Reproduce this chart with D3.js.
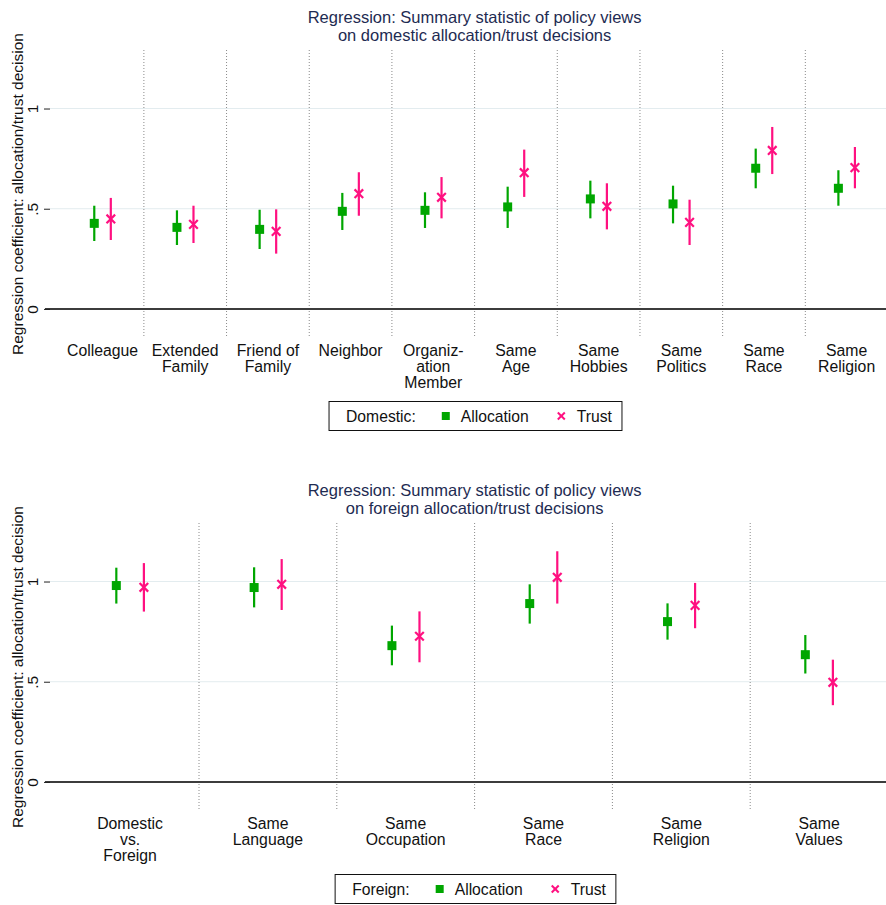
<!DOCTYPE html>
<html lang="en">
	<head>
		<meta charset="utf-8">
		<title>Regression coefficients: domestic and foreign</title>
		<script type="text/javascript" src="https://cdn.jsdelivr.net/npm/d3@7"></script>
		<style>
			body { margin: 0; background: #fff; }
			text { font-family: "Liberation Sans", Arial, sans-serif; }
		</style>
	</head>
	<body>
		<script type="text/javascript">

			// --- data ---
			var domCategories = ["Colleague", "Extended\nFamily", "Friend of\nFamily", "Neighbor", "Organiz-\nation\nMember",
			                     "Same\nAge", "Same\nHobbies", "Same\nPolitics", "Same\nRace", "Same\nReligion"];
			var domAllocEst = [0.427, 0.407, 0.397, 0.487, 0.492, 0.509, 0.549, 0.524, 0.702, 0.602];
			var domAllocLo  = [0.339, 0.319, 0.299, 0.394, 0.404, 0.404, 0.452, 0.427, 0.602, 0.515];
			var domAllocHi  = [0.515, 0.492, 0.495, 0.579, 0.582, 0.610, 0.640, 0.615, 0.800, 0.692];
			var domTrustEst = [0.449, 0.422, 0.387, 0.575, 0.557, 0.680, 0.512, 0.432, 0.791, 0.705];
			var domTrustLo  = [0.344, 0.329, 0.276, 0.465, 0.452, 0.559, 0.397, 0.319, 0.673, 0.602];
			var domTrustHi  = [0.554, 0.515, 0.497, 0.682, 0.658, 0.795, 0.627, 0.545, 0.908, 0.808];

			var forCategories = ["Domestic\nvs.\nForeign", "Same\nLanguage", "Same\nOccupation", "Same\nRace", "Same\nReligion", "Same\nValues"];
			var forAllocEst = [0.980, 0.970, 0.680, 0.890, 0.800, 0.635];
			var forAllocLo  = [0.890, 0.871, 0.582, 0.790, 0.710, 0.541];
			var forAllocHi  = [1.069, 1.071, 0.780, 0.986, 0.891, 0.733];
			var forTrustEst = [0.971, 0.986, 0.727, 1.021, 0.881, 0.497];
			var forTrustLo  = [0.850, 0.858, 0.597, 0.890, 0.767, 0.383];
			var forTrustHi  = [1.092, 1.112, 0.851, 1.151, 0.993, 0.610];

			var yTicks = [0, 0.5, 1];
			var yTickLabels = ["0", ".5", "1"];
			var yTitle = "Regression coefficient: allocation/trust decision";

			var domTitle = ["Regression: Summary statistic of policy views", "on domestic allocation/trust decisions"];
			var forTitle = ["Regression: Summary statistic of policy views", "on foreign allocation/trust decisions"];
			var seriesNames = ["Allocation", "Trust"];

			// --- layout ---
			var w = 886;
			var h = 905;
			var panelShift = 473;
			var plotLeft = 50, plotRight = 886;
			var bandLeft = 61.2, bandRight = 888;
			var plotTop = 50, plotBottom = 338;

			var green = "#00a600";
			var pink = "#ff1080";
			var titleColor = "#1e2b52";

			var svg = d3.select("body")
						.append("svg")
						.attr("width", w)
						.attr("height", h);

			var yScale = d3.scaleLinear()
						   .domain([-0.145, 1.292])
						   .range([plotBottom, plotTop]);

			function rows(cats, est, lo, hi) {
				return cats.map(function(c, i) {
					return { cat: c, est: est[i], lo: lo[i], hi: hi[i] };
				});
			}

			function drawX(sel, size) {
				sel.append("line").attr("x1", -size).attr("y1", -size).attr("x2", size).attr("y2", size);
				sel.append("line").attr("x1", -size).attr("y1", size).attr("x2", size).attr("y2", -size);
			}

			function drawPanel(g, cats, alloc, trust, title, legendLabel) {

				var xScale = d3.scaleBand()
							   .domain(cats)
							   .range([bandLeft, bandRight]);
				var bw = xScale.bandwidth();
				var off = bw * 0.1;

				// grid lines
				g.selectAll(".grid")
				 .data(yTicks.filter(function(d) { return d !== 0; }))
				 .enter()
				 .append("line")
				 .attr("x1", plotLeft).attr("x2", plotRight)
				 .attr("y1", function(d) { return yScale(d); })
				 .attr("y2", function(d) { return yScale(d); })
				 .attr("stroke", "#e3ecef")
				 .attr("stroke-width", 1);

				// category dividers
				g.selectAll(".divider")
				 .data(cats.slice(1))
				 .enter()
				 .append("line")
				 .attr("x1", function(d) { return xScale(d); })
				 .attr("x2", function(d) { return xScale(d); })
				 .attr("y1", plotTop).attr("y2", plotBottom)
				 .attr("stroke", "#8a8a8a")
				 .attr("stroke-width", 1)
				 .attr("stroke-dasharray", "1,2");

				// zero line
				g.append("line")
				 .attr("x1", 45).attr("x2", plotRight)
				 .attr("y1", yScale(0)).attr("y2", yScale(0))
				 .attr("stroke", "#3c3c3c")
				 .attr("stroke-width", 2);

				// y axis
				var yAxis = d3.axisLeft(yScale)
							  .tickValues(yTicks)
							  .tickFormat(function(d, i) { return yTickLabels[i]; })
							  .tickSize(6);
				var ax = g.append("g")
						  .attr("transform", "translate(" + plotLeft + ",0)")
						  .call(yAxis);
				ax.select(".domain").remove();
				ax.selectAll("line").attr("stroke", "#222");
				ax.selectAll("text")
				  .attr("transform", "rotate(-90)")
				  .attr("x", 0)
				  .attr("y", -12)
				  .attr("dy", 0)
				  .attr("text-anchor", "middle")
				  .attr("font-size", "15.5px")
				  .attr("font-family", "Liberation Sans, Arial, sans-serif")
				  .attr("fill", "#111");

				g.append("text")
				 .attr("transform", "translate(23," + ((plotTop + plotBottom) / 2) + ") rotate(-90)")
				 .attr("text-anchor", "middle")
				 .attr("font-size", "15.5px")
				 .attr("fill", "#111")
				 .text(yTitle);

				// title, one text block with two lines
				var tx = (bandLeft + bandRight) / 2;
				g.append("text")
				 .attr("text-anchor", "middle")
				 .attr("font-size", "16.5px")
				 .attr("fill", titleColor)
				 .selectAll("tspan")
				 .data(title)
				 .enter()
				 .append("tspan")
				 .attr("x", tx)
				 .attr("y", function(d, i) { return 22.5 + i * 18.5; })
				 .text(function(d) { return d; });

				// category labels
				var lab = g.selectAll(".catlab")
						   .data(cats)
						   .enter()
						   .append("text")
						   .attr("text-anchor", "middle")
						   .attr("font-size", "15.8px")
						   .attr("fill", "#111");
				lab.selectAll("tspan")
				   .data(function(d) { return d.split("\n").map(function(s) { return { s: s, c: d }; }); })
				   .enter()
				   .append("tspan")
				   .attr("x", function(d) { return xScale(d.c) + bw / 2; })
				   .attr("y", function(d, i) { return 355.5 + i * 16; })
				   .text(function(d) { return d.s; });

				// allocation: error bars + squares
				var ga = g.append("g");
				ga.selectAll("line")
				  .data(alloc)
				  .enter()
				  .append("line")
				  .attr("x1", function(d) { return xScale(d.cat) + bw / 2 - off; })
				  .attr("x2", function(d) { return xScale(d.cat) + bw / 2 - off; })
				  .attr("y1", function(d) { return yScale(d.lo); })
				  .attr("y2", function(d) { return yScale(d.hi); })
				  .attr("stroke", green)
				  .attr("stroke-width", 2.2);
				ga.selectAll("rect")
				  .data(alloc)
				  .enter()
				  .append("rect")
				  .attr("x", function(d) { return xScale(d.cat) + bw / 2 - off - 4.5; })
				  .attr("y", function(d) { return yScale(d.est) - 4.5; })
				  .attr("width", 9)
				  .attr("height", 9)
				  .attr("fill", green);

				// trust: error bars + crosses
				var gt = g.append("g");
				gt.selectAll("line")
				  .data(trust)
				  .enter()
				  .append("line")
				  .attr("x1", function(d) { return xScale(d.cat) + bw / 2 + off; })
				  .attr("x2", function(d) { return xScale(d.cat) + bw / 2 + off; })
				  .attr("y1", function(d) { return yScale(d.lo); })
				  .attr("y2", function(d) { return yScale(d.hi); })
				  .attr("stroke", pink)
				  .attr("stroke-width", 2.2);
				gt.selectAll("g")
				  .data(trust)
				  .enter()
				  .append("g")
				  .attr("transform", function(d) {
					  return "translate(" + (xScale(d.cat) + bw / 2 + off) + "," + yScale(d.est) + ")";
				  })
				  .attr("stroke", pink)
				  .attr("stroke-width", 2.2)
				  .call(drawX, 4.3);

				// legend
				var lg = g.append("g").attr("font-size", "15.7px").attr("fill", "#111");
				var t0 = lg.append("text").attr("y", 421.5).text(legendLabel);
				var t1 = lg.append("text").attr("y", 421.5).text(seriesNames[0]);
				var t2 = lg.append("text").attr("y", 421.5).text(seriesNames[1]);
				var w0 = t0.node().getComputedTextLength();
				var w1 = t1.node().getComputedTextLength();
				var w2 = t2.node().getComputedTextLength();
				var total = 17 + w0 + 26 + 8 + 11 + w1 + 28 + 9 + 11 + w2 + 10;
				var bx = 475.5 - total / 2;
				var cx = bx + 17;
				t0.attr("x", cx); cx += w0 + 26;
				lg.append("rect").attr("x", cx).attr("y", 412).attr("width", 8).attr("height", 8).attr("fill", green);
				cx += 8 + 11;
				t1.attr("x", cx); cx += w1 + 28;
				lg.append("g")
				  .attr("transform", "translate(" + (cx + 4.5) + ",416)")
				  .attr("stroke", pink)
				  .attr("stroke-width", 2)
				  .call(drawX, 3.5);
				cx += 9 + 11;
				t2.attr("x", cx);
				lg.append("rect")
				  .attr("x", bx).attr("y", 401.5)
				  .attr("width", total).attr("height", 29)
				  .attr("fill", "none")
				  .attr("stroke", "#111")
				  .attr("stroke-width", 1);
			}

			drawPanel(svg.append("g"), domCategories,
					  rows(domCategories, domAllocEst, domAllocLo, domAllocHi),
					  rows(domCategories, domTrustEst, domTrustLo, domTrustHi),
					  domTitle, "Domestic:");

			drawPanel(svg.append("g").attr("transform", "translate(0," + panelShift + ")"), forCategories,
					  rows(forCategories, forAllocEst, forAllocLo, forAllocHi),
					  rows(forCategories, forTrustEst, forTrustLo, forTrustHi),
					  forTitle, "Foreign:");
		</script>
	</body>
</html>
